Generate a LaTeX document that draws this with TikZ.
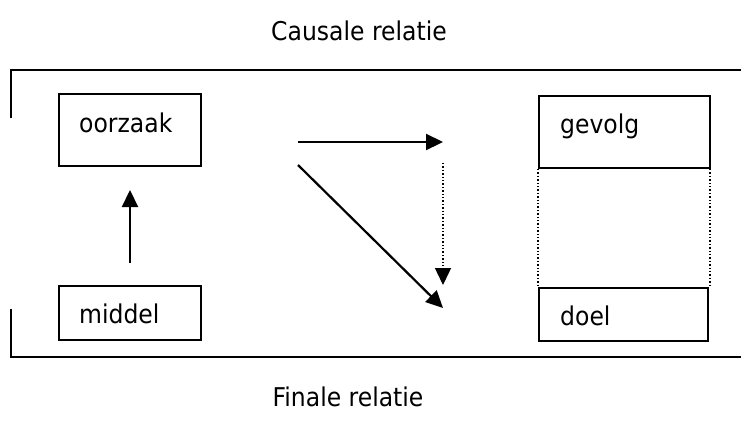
\documentclass[tikz,border=0pt]{standalone}
\usepackage{fontspec}
\usepackage{graphicx}
\setmainfont{DejaVu Sans}
\usetikzlibrary{arrows.meta}
\newcommand\stretchtxt[1]{\scalebox{1}[1.1]{#1}}
\begin{document}
\begin{tikzpicture}[x=1pt,y=-1pt,
  box/.style={draw,line width=2pt,minimum width=142pt,minimum height=72pt,anchor=north west,inner sep=0pt},
  lbl/.style={font=\fontsize{23.5}{27}\selectfont,inner sep=0pt},
  arr/.style={line width=2.2pt,-{Triangle[length=17pt,width=16pt]}},
  frame/.style={line width=2.4pt}]
\useasboundingbox (0,0) rectangle (741,421);
\node[box] (oorzaak) at (58,93) {};
\node[lbl,anchor=base west] (toorzaak) at (79,132) {\stretchtxt{oorzaak}};
\node[box,minimum height=54pt] (middel) at (58,285) {};
\node[lbl,anchor=base west] (tmiddel) at (79,323) {\stretchtxt{middel}};
\node[box,minimum width=171pt] (gevolg) at (538,95) {};
\node[lbl,anchor=base west] (tgevolg) at (560,133) {\stretchtxt{gevolg}};
\node[box,minimum width=169pt,minimum height=53pt] (doel) at (538,287) {};
\node[lbl,anchor=base west] (tdoel) at (560,325) {\stretchtxt{doel}};
\node[lbl,anchor=base] (causale) at (359,40) {\stretchtxt{Causale relatie}};
\node[lbl,anchor=base] (finale) at (348,406) {\stretchtxt{Finale relatie}};
% frame
\draw[frame] (11,118) -- (11,70) -- (741,70);
\draw[frame] (11,309) -- (11,357) -- (741,357);
% dotted sides
\draw[line width=1.4pt,dotted] (gevolg.south west) -- (doel.north west);
\draw[line width=1.4pt,dotted] ([xshift=-1pt]gevolg.south east) -- ([xshift=1pt]doel.north east);
% arrows
\coordinate (hA) at (298,142);
\coordinate (hB) at (443,142);
\coordinate (vA) at (443,163);
\coordinate (vB) at (443,285);
\coordinate (dA) at (298,165);
\coordinate (dB) at (443,308);
\coordinate (uA) at (130,263);
\coordinate (uB) at (130,190);
\draw[arr] (hA) -- (hB);
\draw[arr,line width=1.4pt,dotted] (vA) -- (vB);
\draw[arr] (dA) -- (dB);
\draw[arr] (uA) -- (uB);
\end{tikzpicture}
\end{document}
